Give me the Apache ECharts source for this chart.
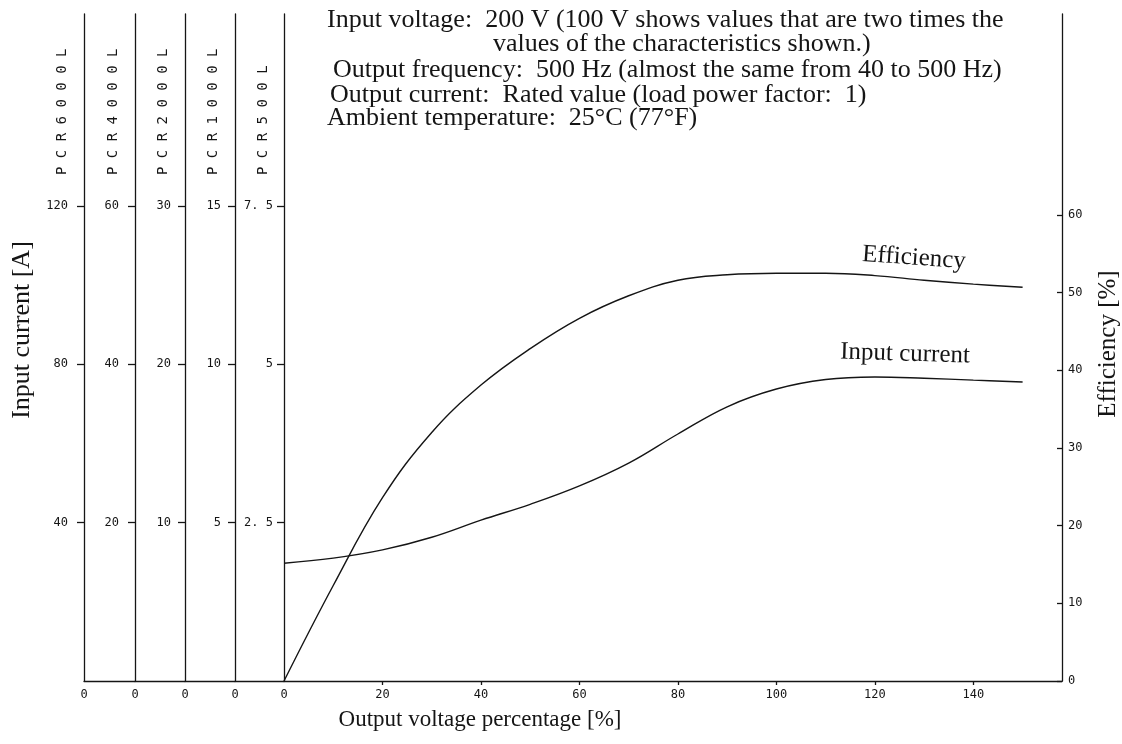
<!DOCTYPE html>
<html>
<head>
<meta charset="utf-8">
<title>PCR-L efficiency and input current</title>
<script src="https://cdn.jsdelivr.net/npm/echarts@6/dist/echarts.min.js"></script>
<style>
  html, body { margin: 0; padding: 0; background: #fff; }
  #chart { width: 1122px; height: 744px; }
</style>
</head>
<body>
<div id="chart"></div>
<script>
// ---- data ----
const models = ['PCR6000L', 'PCR4000L', 'PCR2000L', 'PCR1000L', 'PCR500L'];
// input-current tick values [A] on each model's scale
const currentTicks = [
  [40, 80, 120],
  [20, 40, 60],
  [10, 20, 30],
  [5, 10, 15],
  [2.5, 5, 7.5]
];
const efficiencyTicks = [0, 10, 20, 30, 40, 50, 60];
const voltageTicks = [0, 20, 40, 60, 80, 100, 120, 140];

// output voltage [%]
const outputVoltage = [0, 10, 20, 30, 40, 50, 60, 70, 80, 90, 100, 110, 120, 130, 140, 150];
// efficiency [%]
const efficiency = [0, 12.3, 23.6, 32.0, 38.1, 42.8, 46.7, 49.6, 51.6, 52.3, 52.5, 52.5, 52.2, 51.6, 51.1, 50.7];
// input current [A], PCR500L scale
const inputCurrent = [1.86, 1.94, 2.07, 2.27, 2.54, 2.79, 3.08, 3.44, 3.90, 4.33, 4.61, 4.76, 4.80, 4.78, 4.75, 4.72];

// ---- layout ----
const INK = '#151515';
const serif = '"Liberation Serif", "Times New Roman", serif';
const mono = '"DejaVu Sans Mono", monospace';
const axisLeft = [84, 135, 185, 235, 284];
const labelMargin = [16, 16, 14, 14, 11];
const plotRight = 1062;
const plotTop = 14, bottomY = 681;
const plotH = bottomY - plotTop;
const tickTopY = 206;   // pixel row of the top current tick
const effTopY = 215;    // pixel row of the 60 % tick
const curTopRatio = plotH / (bottomY - tickTopY);
const effMax = 60 * plotH / (bottomY - effTopY);
const xMax = 158;

const line = { color: INK, width: 1.3 };
const spaced = v => String(v).replace('.', '. ');

const grids = models.map((m, i) => ({
  left: axisLeft[i],
  width: (i < models.length - 1 ? axisLeft[i + 1] : plotRight) - axisLeft[i],
  top: plotTop,
  height: plotH,
  containLabel: false,
  outerBoundsMode: 'none'
}));

const xAxes = models.map((m, i) => {
  const isMain = i === models.length - 1;
  const vals = isMain ? voltageTicks : [0];
  return {
    gridIndex: i,
    type: 'value',
    min: 0,
    max: isMain ? xMax : 1,
    axisLine: { show: true, onZero: false, lineStyle: line },
    axisTick: { show: isMain, customValues: vals.slice(1), length: 4, lineStyle: line },
    axisLabel: {
      customValues: vals,
      margin: 8,
      color: INK,
      fontFamily: mono,
      fontSize: 12
    },
    splitLine: { show: false }
  };
});

const yAxes = models.map((m, i) => {
  const ticks = currentTicks[i];
  return {
    gridIndex: i,
    type: 'value',
    position: 'left',
    min: 0,
    max: ticks[ticks.length - 1] * curTopRatio,
    axisLine: { show: true, onZero: false, lineStyle: line },
    axisTick: { show: true, customValues: ticks, length: 7, lineStyle: line },
    axisLabel: {
      customValues: ticks,
      formatter: spaced,
      margin: labelMargin[i],
      color: INK,
      fontFamily: mono,
      fontSize: 12
    },
    splitLine: { show: false }
  };
});

// efficiency scale on the right edge of the main plot
yAxes.push({
  gridIndex: models.length - 1,
  type: 'value',
  position: 'right',
  min: 0,
  max: effMax,
  axisLine: { show: true, onZero: false, lineStyle: line },
  axisTick: { show: true, inside: true, customValues: efficiencyTicks, length: 5, lineStyle: line },
  axisLabel: {
    customValues: efficiencyTicks,
    margin: 6,
    color: INK,
    fontFamily: mono,
    fontSize: 12
  },
  splitLine: { show: false }
});

const headerLines = [
  { text: 'Input voltage:  200 V (100 V shows values that are two times the', x: 327, y: 20 },
  { text: 'values of the characteristics shown.)', x: 493, y: 44 },
  { text: 'Output frequency:  500 Hz (almost the same from 40 to 500 Hz)', x: 333, y: 70 },
  { text: 'Output current:  Rated value (load power factor:  1)', x: 330, y: 95 },
  { text: 'Ambient temperature:  25\u00B0C (77\u00B0F)', x: 327, y: 118 }
];

const textEl = (text, x, y, opts) => Object.assign({
  type: 'text',
  x: x, y: y,
  silent: true,
  style: Object.assign({
    text: text,
    fill: INK,
    font: '26px ' + serif,
    align: 'left',
    verticalAlign: 'middle'
  }, (opts && opts.style) || {})
}, opts && opts.rotation !== undefined ? { rotation: opts.rotation } : {});

const graphics = [];
headerLines.forEach(h => graphics.push(textEl(h.text, h.x, h.y)));

// model names written up the left scales, all starting from the same row
const nameX = [62, 113, 163, 213, 263];
models.forEach((m, i) => {
  graphics.push(textEl(m.split('').join(' '), nameX[i], 175, {
    rotation: Math.PI / 2,
    style: { font: '14px ' + mono, align: 'left' }
  }));
});

// axis titles
graphics.push(textEl('Input current [A]', 22, 330, { rotation: Math.PI / 2, style: { align: 'center', font: '26px ' + serif } }));
graphics.push(textEl('Efficiency [%]', 1108, 344, { rotation: Math.PI / 2, style: { align: 'center', font: '25px ' + serif } }));
graphics.push(textEl('Output voltage percentage [%]', 480, 720, { style: { align: 'center', font: '23px ' + serif } }));

// curve captions
graphics.push(textEl('Efficiency', 914, 258, { rotation: -0.07, style: { align: 'center', font: '25px ' + serif } }));
graphics.push(textEl('Input current', 905, 354, { rotation: -0.03, style: { align: 'center', font: '25px ' + serif } }));

const chart = echarts.init(document.getElementById('chart'), null, { renderer: 'canvas' });
chart.setOption({
  animation: false,
  backgroundColor: '#ffffff',
  grid: grids,
  xAxis: xAxes,
  yAxis: yAxes,
  series: [
    {
      name: 'Efficiency',
      type: 'line',
      xAxisIndex: models.length - 1,
      yAxisIndex: models.length,
      data: outputVoltage.map((v, i) => [v, efficiency[i]]),
      smooth: 0.4,
      showSymbol: false,
      lineStyle: { color: INK, width: 1.4 }
    },
    {
      name: 'Input current',
      type: 'line',
      xAxisIndex: models.length - 1,
      yAxisIndex: models.length - 1,
      data: outputVoltage.map((v, i) => [v, inputCurrent[i]]),
      smooth: 0.4,
      showSymbol: false,
      lineStyle: { color: INK, width: 1.4 }
    }
  ],
  graphic: graphics
});
</script>
</body>
</html>
